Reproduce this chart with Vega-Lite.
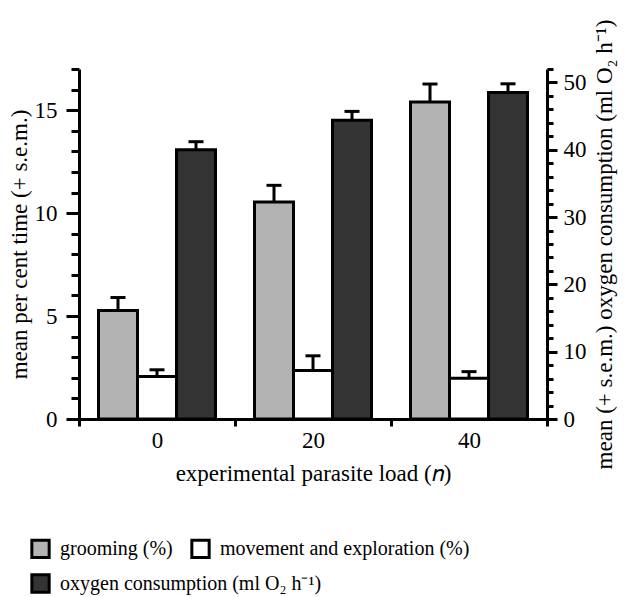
{
  "$schema": "https://vega.github.io/schema/vega-lite/v6.json",
  "autosize": {"type": "none"},
  "padding": {"left": 79, "top": 69, "right": 78, "bottom": 178},
  "width": 468,
  "height": 350,
  "config": {
    "font": "Liberation Serif",
    "view": {"stroke": null},
    "axis": {
      "labelFont": "Liberation Serif",
      "titleFont": "Liberation Serif",
      "labelFontSize": 23,
      "titleFontSize": 23,
      "titleFontWeight": "normal",
      "labelColor": "black",
      "titleColor": "black",
      "domainColor": "black",
      "tickColor": "black",
      "domainWidth": 3,
      "tickWidth": 3,
      "grid": false,
      "labelOverlap": false,
      "labelBound": false
    },
    "legend": {
      "labelFont": "Liberation Serif",
      "labelFontSize": 20,
      "labelColor": "black",
      "labelLimit": 500,
      "title": null,
      "orient": "none",
      "direction": "horizontal",
      "columnPadding": 12,
      "symbolType": "square",
      "symbolSize": 300,
      "symbolStrokeColor": "black",
      "symbolStrokeWidth": 3,
      "symbolOpacity": 1,
      "labelOffset": 9
    }
  },
  "data": {
    "values": [
      {"load": "0", "series": "grooming", "mean": 5.27, "upper": 5.9},
      {"load": "20", "series": "grooming", "mean": 10.54, "upper": 11.35},
      {"load": "40", "series": "grooming", "mean": 15.4, "upper": 16.27},
      {"load": "0", "series": "movement", "mean": 2.06, "upper": 2.39},
      {"load": "20", "series": "movement", "mean": 2.35, "upper": 3.07},
      {"load": "40", "series": "movement", "mean": 1.98, "upper": 2.3},
      {"load": "0", "series": "oxygen", "mean": 40.0, "upper": 41.2},
      {"load": "20", "series": "oxygen", "mean": 44.4, "upper": 45.7},
      {"load": "40", "series": "oxygen", "mean": 48.5, "upper": 49.8}
    ]
  },
  "encoding": {
    "x": {
      "field": "load",
      "type": "nominal",
      "sort": ["0", "20", "40"],
      "scale": {"paddingInner": 0, "paddingOuter": 0},
      "axis": {
        "title": "experimental parasite load (𝑛)",
        "labelAngle": 0,
        "tickBand": "extent",
        "tickSize": 7,
        "labelPadding": 3,
        "titlePadding": 10
      }
    },
    "xOffset": {
      "field": "series",
      "type": "nominal",
      "scale": {"domain": ["grooming", "movement", "oxygen"], "paddingInner": 0, "paddingOuter": 0.5}
    }
  },
  "layer": [
    {
      "transform": [{"filter": "datum.series !== 'oxygen'"}],
      "layer": [
        {
          "mark": {"type": "bar", "stroke": "black", "strokeWidth": 3, "opacity": 1},
          "encoding": {
            "y": {
              "field": "mean",
              "type": "quantitative",
              "scale": {"domain": [0, 17], "nice": false},
              "axis": {
                "orient": "left",
                "title": "mean per cent time (+ s.e.m.)",
                "values": [0,1,2,3,4,5,6,7,8,9,10,11,12,13,14,15,16,17],
                "labelExpr": "datum.value % 5 === 0 ? datum.label : ''",
                "tickSize": {"condition": {"test": "datum.value % 5 === 0", "value": 13}, "value": 8},
                "labelPadding": 9,
                "titlePadding": 3
              }
            },
            "fill": {
              "field": "series",
              "type": "nominal",
              "scale": {"domain": ["grooming", "movement"], "range": ["#b3b3b3", "#ffffff"]},
              "legend": {
                "legendX": -49,
                "legendY": 469,
                "labelExpr": "datum.value === 'grooming' ? 'grooming (%)' : 'movement and exploration (%)'"
              }
            }
          }
        },
        {
          "mark": {"type": "rule", "color": "black", "strokeWidth": 3},
          "encoding": {
            "y": {
              "field": "mean",
              "type": "quantitative",
              "axis": {
                "orient": "left",
                "title": "mean per cent time (+ s.e.m.)",
                "values": [0,1,2,3,4,5,6,7,8,9,10,11,12,13,14,15,16,17],
                "labelExpr": "datum.value % 5 === 0 ? datum.label : ''",
                "tickSize": {"condition": {"test": "datum.value % 5 === 0", "value": 13}, "value": 8},
                "labelPadding": 9,
                "titlePadding": 3
              }
            },
            "y2": {"field": "upper"}
          }
        },
        {
          "mark": {"type": "tick", "color": "black", "thickness": 3, "size": 15, "opacity": 1},
          "encoding": {
            "y": {
              "field": "upper",
              "type": "quantitative",
              "axis": {
                "orient": "left",
                "title": "mean per cent time (+ s.e.m.)",
                "values": [0,1,2,3,4,5,6,7,8,9,10,11,12,13,14,15,16,17],
                "labelExpr": "datum.value % 5 === 0 ? datum.label : ''",
                "tickSize": {"condition": {"test": "datum.value % 5 === 0", "value": 13}, "value": 8},
                "labelPadding": 9,
                "titlePadding": 3
              }
            }
          }
        }
      ]
    },
    {
      "transform": [{"filter": "datum.series === 'oxygen'"}],
      "layer": [
        {
          "mark": {"type": "bar", "stroke": "black", "strokeWidth": 3, "opacity": 1},
          "encoding": {
            "y": {
              "field": "mean",
              "type": "quantitative",
              "scale": {"domain": [0, 52], "nice": false},
              "axis": {
                "orient": "right",
                "title": "mean (+ s.e.m.) oxygen consumption (ml O₂ h⁻¹)",
                "titleAngle": -90,
                "values": [0,2,4,6,8,10,12,14,16,18,20,22,24,26,28,30,32,34,36,38,40,42,44,46,48,50,52],
                "labelExpr": "datum.value % 10 === 0 ? datum.label : ''",
                "tickSize": {"condition": {"test": "datum.value % 10 === 0", "value": 10}, "value": 6},
                "labelPadding": 6,
                "titlePadding": 30
              }
            },
            "color": {
              "field": "series",
              "type": "nominal",
              "scale": {"domain": ["oxygen"], "range": ["#333333"]},
              "legend": {
                "legendX": -49,
                "legendY": 504,
                "labelExpr": "'oxygen consumption (ml O₂ h⁻¹)'"
              }
            }
          }
        },
        {
          "mark": {"type": "rule", "color": "black", "strokeWidth": 3},
          "encoding": {
            "y": {
              "field": "mean",
              "type": "quantitative",
              "axis": {
                "orient": "right",
                "title": "mean (+ s.e.m.) oxygen consumption (ml O₂ h⁻¹)",
                "titleAngle": -90,
                "values": [0,2,4,6,8,10,12,14,16,18,20,22,24,26,28,30,32,34,36,38,40,42,44,46,48,50,52],
                "labelExpr": "datum.value % 10 === 0 ? datum.label : ''",
                "tickSize": {"condition": {"test": "datum.value % 10 === 0", "value": 10}, "value": 6},
                "labelPadding": 6,
                "titlePadding": 30
              }
            },
            "y2": {"field": "upper"}
          }
        },
        {
          "mark": {"type": "tick", "color": "black", "thickness": 3, "size": 15, "opacity": 1},
          "encoding": {
            "y": {
              "field": "upper",
              "type": "quantitative",
              "axis": {
                "orient": "right",
                "title": "mean (+ s.e.m.) oxygen consumption (ml O₂ h⁻¹)",
                "titleAngle": -90,
                "values": [0,2,4,6,8,10,12,14,16,18,20,22,24,26,28,30,32,34,36,38,40,42,44,46,48,50,52],
                "labelExpr": "datum.value % 10 === 0 ? datum.label : ''",
                "tickSize": {"condition": {"test": "datum.value % 10 === 0", "value": 10}, "value": 6},
                "labelPadding": 6,
                "titlePadding": 30
              }
            }
          }
        }
      ]
    }
  ],
  "resolve": {"scale": {"y": "independent"}, "axis": {"y": "independent"}}
}
